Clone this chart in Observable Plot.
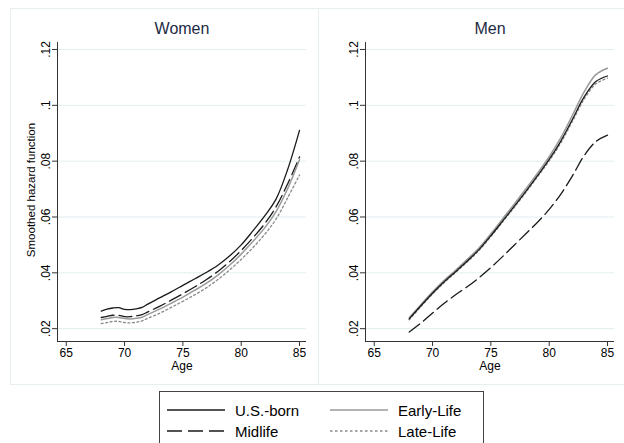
<!DOCTYPE html>
<html>
<head>
<meta charset="utf-8">
<script src="https://cdn.jsdelivr.net/npm/d3@7"></script>
<script src="https://cdn.jsdelivr.net/npm/@observablehq/plot@0.6"></script>
<style>
  body { margin: 0; background: #fff; }
  #wrap { position: relative; width: 624px; height: 443px; overflow: hidden; font-family: "Liberation Sans", Arial, sans-serif; color: #000; }
  .abs { position: absolute; }
  .title { font-size: 16px; color: #1c2a44; transform: translateX(-50%); white-space: nowrap; }
  .xlab { font-size: 12px; transform: translateX(-50%); }
  .ylab { font-size: 11.5px; transform: translate(-50%, -50%) rotate(-90deg); white-space: nowrap; }
  .box { border: 1px solid #e6eef0; }
  #legend { left: 159px; top: 391px; width: 323px; height: 70px; border: 1px solid #444; background: #fff; font-size: 15px; }
  .item { position: absolute; display: flex; align-items: center; white-space: nowrap; }
  .item svg { margin-right: 10px; }
</style>
</head>
<body>
<div id="wrap">
  <div class="abs box" style="left:10px; top:8px; width:620px; height:375px;"></div>
  <div class="abs" style="left:318px; top:8px; width:1px; height:376px; background:#e6eef0;"></div>
  <div id="left" class="abs" style="left:0; top:0;"></div>
  <div id="right" class="abs" style="left:312px; top:0;"></div>
  <div class="abs title" style="left:182px; top:20px;">Women</div>
  <div class="abs title" style="left:490px; top:20px;">Men</div>
  <div class="abs xlab" style="left:182px; top:359px;">Age</div>
  <div class="abs xlab" style="left:490px; top:359px;">Age</div>
  <div class="abs ylab" style="left:31px; top:190px;">Smoothed hazard function</div>
  <div id="legend" class="abs"></div>
</div>
<script>
// ---- data ----
const series = ["U.S.-born", "Early-Life", "Midlife", "Late-Life"];
const womenAges = [68, 68.5, 69, 69.5, 70, 70.5, 71, 71.5, 72, 73, 74, 75, 76, 77, 78, 79, 80, 81, 82, 83, 84, 85];
const womenUS    = [.0263,.0270,.0274,.0275,.0269,.0268,.0271,.0276,.0288,.0310,.0332,.0355,.0378,.0401,.0427,.0460,.0500,.0550,.0603,.0665,.0772,.0910];
const womenMid   = [.0240,.0244,.0248,.0248,.0243,.0243,.0246,.0250,.0260,.0280,.0302,.0325,.0349,.0375,.0405,.0440,.0480,.0525,.0575,.0637,.0720,.0815];
const womenEarly = [.0232,.0236,.0240,.0240,.0236,.0235,.0237,.0241,.0251,.0270,.0291,.0313,.0337,.0362,.0392,.0427,.0467,.0512,.0560,.0620,.0703,.0805];
const womenLate  = [.0218,.0222,.0226,.0226,.0222,.0221,.0223,.0228,.0237,.0255,.0276,.0298,.0321,.0346,.0376,.0410,.0448,.0490,.0537,.0593,.0670,.0750];

const menAges = [68, 69, 70, 71, 72, 73, 74, 75, 76, 77, 78, 79, 80, 81, 82, 83, 84, 85];
const menUS    = [.0235,.0282,.0327,.0368,.0405,.0443,.0484,.0533,.0585,.0638,.0692,.0748,.0806,.0872,.0950,.1030,.1085,.1105];
const menEarly = [.0239,.0286,.0332,.0373,.0410,.0449,.0490,.0540,.0593,.0646,.0701,.0757,.0816,.0884,.0965,.1048,.1110,.1133];
const menMid   = [.0188,.0220,.0256,.0291,.0322,.0351,.0383,.0419,.0458,.0499,.0540,.0581,.0627,.0682,.0748,.0820,.0870,.0893];
const menLate  = [.0232,.0279,.0324,.0365,.0402,.0440,.0481,.0530,.0582,.0634,.0688,.0744,.0801,.0866,.0943,.1022,.1077,.1097];

const xTicks = [65, 70, 75, 80, 85];
const yTicks = [0.02, 0.04, 0.06, 0.08, 0.1, 0.12];
const yTickLabels = [".02", ".04", ".06", ".08", ".1", ".12"];

// ---- styles per series ----
const styles = {
  "U.S.-born":  {stroke: "#1a1a1a", strokeWidth: 1.3},
  "Early-Life": {stroke: "#9a9a9a", strokeWidth: 1.5},
  "Midlife":    {stroke: "#1a1a1a", strokeWidth: 1.3, strokeDasharray: "13,5"},
  "Late-Life":  {stroke: "#8a8a8a", strokeWidth: 1.3, strokeDasharray: "2,2.5"}
};

function toRows(ages, arr) { return ages.map((a, i) => ({age: a, v: arr[i]})); }

function panel(ages, data, width, marginLeft, marginRight) {
  const order = ["Late-Life", "Midlife", "Early-Life", "U.S.-born"];
  return Plot.plot({
    width, height: 382,
    marginTop: 42, marginBottom: 41, marginLeft, marginRight,
    style: {fontFamily: "Liberation Sans, Arial, sans-serif", fontSize: "12px", color: "#000", background: "transparent", overflow: "visible"},
    x: {domain: [64.25, 85.6]},
    y: {domain: [0.0154, 0.1225]},
    marks: [
      Plot.gridY(yTicks, {stroke: "#e2eef0", strokeOpacity: 1, strokeWidth: 1}),
      Plot.axisX(xTicks, {tickSize: 5, tickPadding: 2, label: null, stroke: "#333", fontSize: 12}),
      Plot.axisY(yTicks, {tickSize: 5, tickPadding: 3, label: null, stroke: "#333", tickRotate: -90,
        tickFormat: d => yTickLabels[yTicks.indexOf(d)], fontSize: 12}),
      Plot.ruleX([64.25], {stroke: "#333"}),
      Plot.ruleY([0.0154], {stroke: "#333"}),
      ...order.map(s => Plot.line(toRows(ages, data[s]), {x: "age", y: "v", curve: "catmull-rom", ...styles[s]}))
    ]
  });
}

document.getElementById("left").append(
  panel(womenAges, {"U.S.-born": womenUS, "Early-Life": womenEarly, "Midlife": womenMid, "Late-Life": womenLate}, 318, 57, 12)
);
document.getElementById("right").append(
  panel(menAges, {"U.S.-born": menUS, "Early-Life": menEarly, "Midlife": menMid, "Late-Life": menLate}, 312, 53, 10)
);

// ---- legend ----
const legend = document.getElementById("legend");
const pos = {
  "U.S.-born":  [7, 18],
  "Early-Life": [170, 18],
  "Midlife":    [7, 39],
  "Late-Life":  [170, 39]
};
for (const s of series) {
  const st = styles[s];
  const d = document.createElement("div");
  d.className = "item";
  d.style.left = pos[s][0] + "px";
  d.style.top = (pos[s][1] - 10) + "px";
  d.style.height = "20px";
  d.innerHTML = `<svg width="58" height="6"><line x1="0" y1="3" x2="58" y2="3" stroke="${st.stroke}" stroke-width="1.5" ${st.strokeDasharray ? `stroke-dasharray="${s === "Midlife" ? "15,6" : "2.5,2.5"}"` : ""}/></svg><span>${s}</span>`;
  legend.append(d);
}
</script>
</body>
</html>
